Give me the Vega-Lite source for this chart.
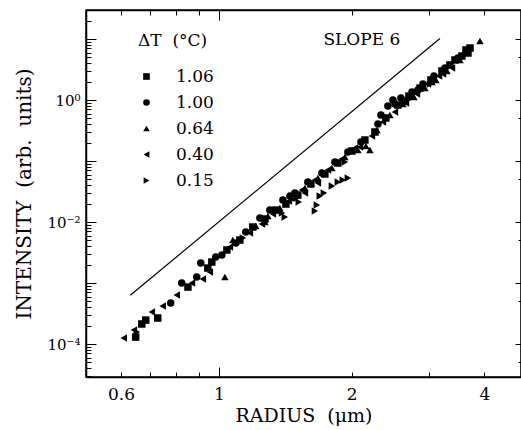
{
  "$schema": "https://vega.github.io/schema/vega-lite/v6.json",
  "width": 435,
  "height": 367,
  "autosize": "none",
  "padding": {"left": 86, "top": 10, "right": 0, "bottom": 53},
  "background": "white",
  "config": {
    "font": "DejaVu Serif",
    "view": {"stroke": "black", "strokeWidth": 1.5},
    "axis": {
      "domainColor": "black", "domainWidth": 1.5, "tickColor": "black", "tickWidth": 1,
      "labelColor": "black", "titleColor": "black", "labelFont": "DejaVu Serif", "titleFont": "DejaVu Serif",
      "titleFontWeight": "normal", "grid": false, "labelOverlap": false, "labelFlush": false
    }
  },
  "resolve": {"axis": {"x": "independent", "y": "independent"}},
  "layer": [
    {
      "data": {"values": [
        {"r":0.609,"i":1.25e-4,"dT":"0.40"},{"r":0.648,"i":1.30e-4,"dT":"1.06"},{"r":0.642,"i":1.70e-4,"dT":"0.40"},{"r":0.652,"i":1.57e-4,"dT":"0.15"},
        {"r":0.669,"i":2.13e-4,"dT":"1.06"},{"r":0.683,"i":2.47e-4,"dT":"1.06"},{"r":0.705,"i":3.35e-4,"dT":"0.40"},{"r":0.727,"i":2.67e-4,"dT":"1.06"},
        {"r":0.746,"i":4.20e-4,"dT":"0.40"},{"r":0.778,"i":4.70e-4,"dT":"1.00"},{"r":0.803,"i":6.36e-4,"dT":"0.40"},{"r":0.824,"i":1.0e-3,"dT":"1.00"},
        {"r":0.851,"i":8.59e-4,"dT":"1.06"},{"r":0.869,"i":1.0e-3,"dT":"0.40"},{"r":0.891,"i":1.25e-3,"dT":"1.00"},{"r":0.920,"i":1.16e-3,"dT":"0.40"},
        {"r":0.910,"i":2.13e-3,"dT":"1.00"},{"r":0.944,"i":1.76e-3,"dT":"1.06"},{"r":0.964,"i":2.21e-3,"dT":"1.06"},{"r":0.984,"i":2.67e-3,"dT":"1.00"},
        {"r":1.032,"i":1.25e-3,"dT":"0.64"},{"r":0.954,"i":1.51e-3,"dT":"0.40"},{"r":1.016,"i":2.88e-3,"dT":"1.00"},{"r":1.043,"i":3.48e-3,"dT":"1.06"},
        {"r":1.059,"i":3.89e-3,"dT":"0.40"},{"r":1.076,"i":5.07e-3,"dT":"0.64"},{"r":1.093,"i":4.53e-3,"dT":"1.00"},{"r":1.116,"i":5.07e-3,"dT":"1.06"},
        {"r":1.134,"i":5.47e-3,"dT":"0.15"},{"r":1.151,"i":6.85e-3,"dT":"1.00"},{"r":1.176,"i":6.61e-3,"dT":"0.40"},{"r":1.194,"i":8.28e-3,"dT":"1.06"},
        {"r":1.213,"i":8.59e-3,"dT":"0.64"},{"r":1.239,"i":1.16e-2,"dT":"1.00"},{"r":1.252,"i":9.27e-3,"dT":"0.40"},{"r":1.272,"i":1.12e-2,"dT":"1.06"},
        {"r":1.292,"i":1.25e-2,"dT":"0.64"},{"r":1.305,"i":1.57e-2,"dT":"1.00"},{"r":1.326,"i":1.35e-2,"dT":"0.40"},{"r":1.347,"i":1.57e-2,"dT":"1.06"},
        {"r":1.375,"i":1.70e-2,"dT":"0.64"},{"r":1.397,"i":2.29e-2,"dT":"1.00"},{"r":1.419,"i":1.97e-2,"dT":"1.06"},{"r":1.390,"i":1.41e-2,"dT":"0.15"},
        {"r":1.411,"i":1.21e-2,"dT":"0.15"},{"r":1.441,"i":2.21e-2,"dT":"0.40"},{"r":1.464,"i":2.47e-2,"dT":"0.64"},{"r":1.487,"i":2.99e-2,"dT":"1.00"},
        {"r":1.510,"i":2.77e-2,"dT":"1.06"},{"r":1.503,"i":2.47e-2,"dT":"0.15"},{"r":1.518,"i":2.13e-2,"dT":"0.15"},{"r":1.543,"i":3.35e-2,"dT":"0.40"},
        {"r":1.567,"i":3.61e-2,"dT":"0.64"},{"r":1.591,"i":4.53e-2,"dT":"1.00"},{"r":1.617,"i":4.20e-2,"dT":"1.06"},{"r":1.651,"i":4.88e-2,"dT":"0.40"},
        {"r":1.677,"i":5.26e-2,"dT":"0.64"},{"r":1.712,"i":6.36e-2,"dT":"1.00"},{"r":1.739,"i":6.12e-2,"dT":"1.06"},{"r":1.767,"i":7.12e-2,"dT":"0.40"},
        {"r":1.804,"i":7.67e-2,"dT":"0.64"},{"r":1.832,"i":9.64e-2,"dT":"1.00"},{"r":1.861,"i":9.27e-2,"dT":"1.06"},{"r":1.900,"i":0.108,"dT":"0.40"},
        {"r":1.931,"i":0.116,"dT":"0.64"},{"r":1.961,"i":0.141,"dT":"1.00"},{"r":2.003,"i":0.146,"dT":"1.06"},{"r":2.034,"i":0.163,"dT":"0.40"},
        {"r":2.066,"i":0.151,"dT":"0.64"},{"r":1.651,"i":1.51e-2,"dT":"0.15"},{"r":1.668,"i":1.90e-2,"dT":"0.15"},{"r":1.694,"i":2.67e-2,"dT":"0.15"},
        {"r":1.730,"i":2.99e-2,"dT":"0.15"},{"r":1.804,"i":3.89e-2,"dT":"0.15"},{"r":1.861,"i":4.53e-2,"dT":"0.15"},{"r":1.910,"i":4.88e-2,"dT":"0.15"},
        {"r":1.961,"i":5.26e-2,"dT":"0.15"},{"r":2.200,"i":0.151,"dT":"0.64"},{"r":2.154,"i":0.176,"dT":"0.64"},{"r":2.099,"i":0.205,"dT":"1.00"},
        {"r":2.143,"i":0.221,"dT":"1.06"},{"r":2.088,"i":0.170,"dT":"0.40"},{"r":2.258,"i":0.299,"dT":"1.06"},{"r":2.294,"i":0.404,"dT":"1.00"},
        {"r":2.282,"i":0.322,"dT":"0.64"},{"r":2.330,"i":0.568,"dT":"1.00"},{"r":2.354,"i":0.436,"dT":"0.40"},{"r":2.391,"i":0.507,"dT":"1.06"},
        {"r":2.416,"i":0.797,"dT":"1.00"},{"r":2.442,"i":0.568,"dT":"0.64"},{"r":2.481,"i":1.0,"dT":"1.00"},{"r":2.507,"i":0.636,"dT":"0.40"},
        {"r":2.546,"i":0.828,"dT":"1.06"},{"r":2.586,"i":1.08,"dT":"1.00"},{"r":2.613,"i":0.860,"dT":"0.64"},{"r":2.655,"i":0.893,"dT":"0.40"},
        {"r":2.697,"i":1.16,"dT":"1.06"},{"r":2.740,"i":1.35,"dT":"1.00"},{"r":2.768,"i":1.12,"dT":"0.64"},{"r":2.812,"i":1.25,"dT":"0.40"},
        {"r":2.857,"i":1.57,"dT":"1.06"},{"r":2.901,"i":1.83,"dT":"1.00"},{"r":2.932,"i":1.57,"dT":"0.64"},{"r":2.978,"i":1.83,"dT":"0.40"},
        {"r":3.025,"i":2.13,"dT":"1.06"},{"r":3.073,"i":2.47,"dT":"1.00"},{"r":3.105,"i":2.13,"dT":"0.64"},{"r":3.154,"i":2.47,"dT":"0.40"},
        {"r":3.204,"i":2.99,"dT":"1.06"},{"r":3.255,"i":3.35,"dT":"1.00"},{"r":3.289,"i":2.99,"dT":"0.64"},{"r":3.341,"i":3.75,"dT":"1.06"},
        {"r":3.376,"i":3.35,"dT":"0.40"},{"r":3.429,"i":4.53,"dT":"1.06"},{"r":3.483,"i":4.88,"dT":"1.00"},{"r":3.556,"i":5.26,"dT":"1.06"},
        {"r":3.520,"i":4.53,"dT":"0.64"},{"r":3.632,"i":6.61,"dT":"1.06"},{"r":3.709,"i":7.12,"dT":"1.06"},{"r":3.670,"i":5.89,"dT":"1.06"},
        {"r":3.907,"i":9.27,"dT":"0.64"},{"r":2.223,"i":0.257,"dT":"0.40"},{"r":2.507,"i":0.860,"dT":"1.00"},{"r":2.641,"i":0.963,"dT":"1.06"},
        {"r":3.221,"i":2.67,"dT":"0.40"},{"r":3.041,"i":1.97,"dT":"0.64"},{"r":2.827,"i":1.46,"dT":"1.00"},{"r":2.711,"i":1.04,"dT":"0.15"},
        {"r":3.010,"i":1.83,"dT":"0.15"},{"r":1.567,"i":2.99e-2,"dT":"0.40"},{"r":1.272,"i":1.0e-2,"dT":"0.64"},{"r":1.449,"i":2.67e-2,"dT":"1.00"},
        {"r":1.931,"i":9.64e-2,"dT":"0.15"},{"r":1.677,"i":4.36e-2,"dT":"0.40"}
      ]},
      "mark": {"type": "point", "filled": true, "color": "black", "opacity": 1, "size": 56},
      "encoding": {
        "x": {"field": "r", "type": "quantitative",
          "scale": {"type": "log", "domain": [0.5, 4.84], "nice": false, "zero": false},
          "axis": {"orient": "bottom", "values": [0.6, 0.7, 0.8, 0.9, 1, 2, 3, 4],
            "labelExpr": "datum.value == 0.6 ? '0.6' : datum.value == 1 ? '1' : datum.value == 2 ? '2' : datum.value == 4 ? '4' : ''",
            "tickSize": {"condition": {"test": "datum.value == 1", "value": -10}, "value": -5},
            "labelPadding": {"condition": {"test": "datum.value == 1", "value": 19}, "value": 14},
            "labelFontSize": 17, "title": "RADIUS\u00a0 (μm)", "titleFontSize": 19, "titlePadding": 4}},
        "y": {"field": "i", "type": "quantitative",
          "scale": {"type": "log", "domain": [2.88e-5, 29.9], "nice": false, "zero": false},
          "axis": {"orient": "left",
            "values": [3e-5,4e-5,5e-5,6e-5,7e-5,8e-5,9e-5,1e-4,2e-4,3e-4,4e-4,5e-4,6e-4,7e-4,8e-4,9e-4,1e-3,2e-3,3e-3,4e-3,5e-3,6e-3,7e-3,8e-3,9e-3,1e-2,2e-2,3e-2,4e-2,5e-2,6e-2,7e-2,8e-2,9e-2,0.1,0.2,0.3,0.4,0.5,0.6,0.7,0.8,0.9,1,2,3,4,5,6,7,8,9,10,20],
            "labelExpr": "abs(log(datum.value)/LN10 + 4) < 1e-6 ? '10⁻⁴' : abs(log(datum.value)/LN10 + 2) < 1e-6 ? '10⁻²' : abs(log(datum.value)/LN10) < 1e-6 ? '10⁰' : ''",
            "tickSize": {"condition": {"test": "abs(log(datum.value)/LN10 - round(log(datum.value)/LN10)) < 1e-6", "value": -10}, "value": -5},
            "labelPadding": {"condition": {"test": "abs(log(datum.value)/LN10 - round(log(datum.value)/LN10)) < 1e-6", "value": 16}, "value": 11},
            "labelFontSize": 15, "title": "INTENSITY\u00a0 (arb.\u00a0 units)", "titleFontSize": 20, "titlePadding": 12}},
        "shape": {"field": "dT", "type": "nominal",
          "scale": {"domain": ["1.06", "1.00", "0.64", "0.40", "0.15"], "range": ["square", "circle", "triangle-up", "triangle-left", "triangle-right"]},
          "legend": {"orient": "none", "legendX": 52, "legendY": 23, "title": "ΔT\u00a0 (°C)", "padding": 0,
            "titleFont": "DejaVu Serif", "titleFontSize": 17, "titleFontWeight": "normal", "titleColor": "black", "titlePadding": 18,
            "labelFont": "DejaVu Serif", "labelFontSize": 17, "labelColor": "black", "labelOffset": 21,
            "symbolSize": 44, "symbolFillColor": "black", "symbolStrokeColor": "black", "rowPadding": 8}}
      }
    },
    {
      "data": {"values": [{"r": 0.63, "i": 6.3e-4}, {"r": 3.17, "i": 10.2}]},
      "mark": {"type": "line", "color": "black", "strokeWidth": 1.2},
      "encoding": {
        "x": {"field": "r", "type": "quantitative",
          "axis": {"orient": "top", "values": [0.6, 0.7, 0.8, 0.9, 1, 2, 3, 4], "labels": false, "title": null,
            "tickSize": {"condition": {"test": "datum.value == 1", "value": -10}, "value": -5}}},
        "y": {"field": "i", "type": "quantitative",
          "axis": {"orient": "right", "values": [5e-5,1e-4,5e-4,1e-3,5e-3,1e-2,5e-2,0.1,0.5,1,5,10], "labels": false, "title": null,
            "tickSize": {"condition": {"test": "abs(log(datum.value)/LN10 - round(log(datum.value)/LN10)) < 1e-6", "value": -6}, "value": -3}}}
      }
    },
    {
      "data": {"values": [{"r": 2.11, "i": 9.6, "t": "SLOPE 6"}]},
      "mark": {"type": "text", "font": "DejaVu Serif", "fontSize": 17, "align": "center", "baseline": "middle", "color": "black"},
      "encoding": {
        "x": {"field": "r", "type": "quantitative", "axis": null},
        "y": {"field": "i", "type": "quantitative", "axis": null},
        "text": {"field": "t"}
      }
    }
  ]
}
